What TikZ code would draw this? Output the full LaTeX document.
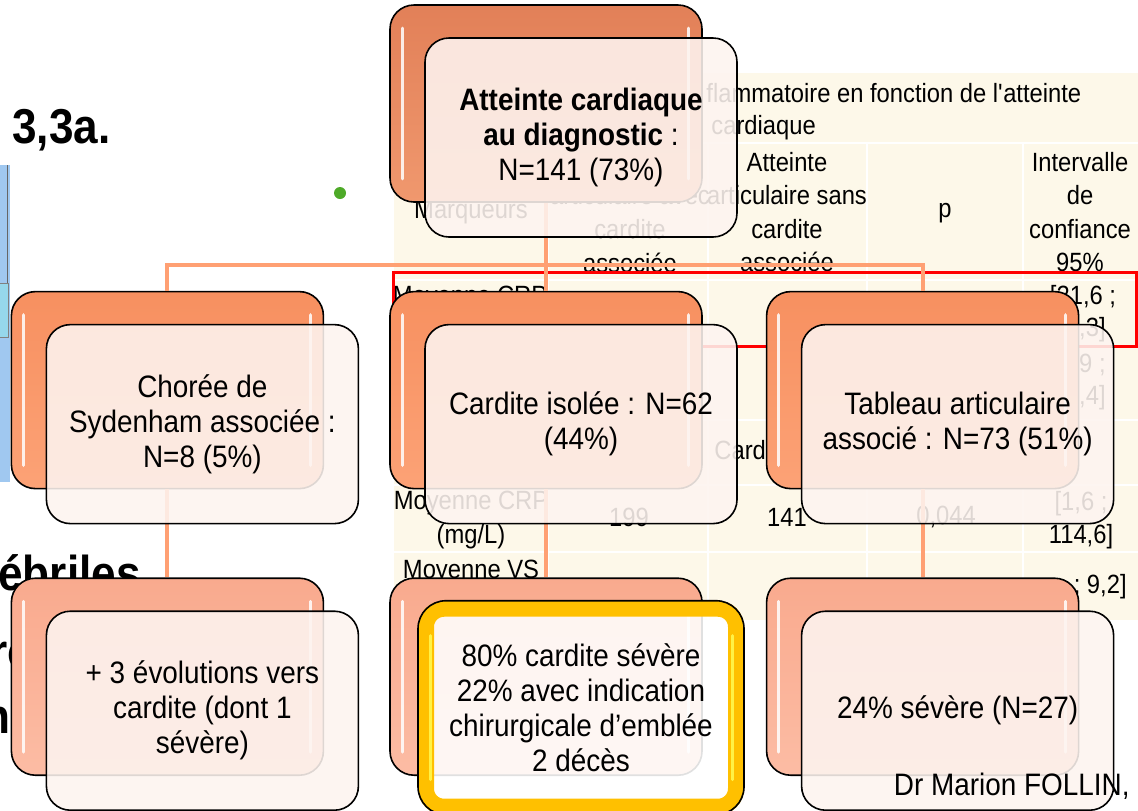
\documentclass[tikz,border=0pt]{standalone}
\usepackage[rgb]{xcolor}
\usepackage{fontspec}
\setmainfont{Liberation Sans}[FakeStretch=0.9]
\usepackage{tikz}
\usetikzlibrary{positioning}

\definecolor{cream}{RGB}{253,248,233}
\definecolor{linkorange}{RGB}{255,160,115}
\definecolor{topdark}{RGB}{226,128,88}
\definecolor{toplight}{RGB}{240,152,110}
\definecolor{middark}{RGB}{247,144,96}
\definecolor{midlight}{RGB}{252,162,118}
\definecolor{lowdark}{RGB}{249,170,142}
\definecolor{lowlight}{RGB}{252,188,164}
\definecolor{frontfill}{RGB}{253,244,240}
\definecolor{gold}{RGB}{255,192,0}
\definecolor{ringshine}{RGB}{255,242,70}
\definecolor{dotgreen}{RGB}{78,170,40}
\definecolor{panelblue}{RGB}{160,200,240}
\definecolor{panelcyan}{RGB}{150,215,235}

\newcommand{\boxfont}{\fontsize{15.5}{17.5}\selectfont}
\newcommand{\tabfont}{\fontsize{13.2}{16.8}\selectfont}
\newcommand{\bigbold}{\fontsize{24.5}{28}\selectfont\bfseries}

\begin{document}
\begin{tikzpicture}[x=0.5pt, y=-0.5pt,
  backbox/.style={draw=black, line width=0.8pt, rounded corners=12pt,
    minimum width=156pt, minimum height=98.5pt, inner sep=0pt},
  rowone/.style={top color=topdark, bottom color=toplight},
  rowtwo/.style={top color=middark, bottom color=midlight},
  rowthree/.style={top color=lowdark, bottom color=lowlight},
  frontbox/.style={draw=black, line width=0.8pt, rounded corners=12pt,
    fill=frontfill, fill opacity=0.88, text opacity=1,
    minimum width=156pt, minimum height=99.5pt, align=center, font=\boxfont},
  link/.style={draw=linkorange, line width=2pt},
  gloss/.style={white, line width=1.6pt, line cap=round, opacity=0.85},
  tabtext/.style={font=\tabfont, align=center, inner sep=0pt},
  slidetext/.style={font=\bigbold, anchor=base west, inner sep=0pt}
]

\useasboundingbox (0,0) rectangle (1138,810);
\fill[white] (0,0) rectangle (1138,810);

% slide behind the chart
\node[slidetext] (secnum) at (12,143) {3,3a.};
\node[slidetext] (febr) at (-2,590) {ébriles};
\node[slidetext] (frag1) at (-10,668) {ro};
\node[slidetext] (frag2) at (-17,733) {n};
\fill[panelblue] (-5,165) rectangle (10,482);
\draw[black!60, line width=0.5pt] (7,165) -- (7,283);
\filldraw[fill=panelcyan, draw=black!50, line width=0.5pt] (-5,283) rectangle (8,337);
\fill[dotgreen] (340,193) circle [radius=3pt];

% table
\fill[cream] (394,73) rectangle (1145,620);
\foreach \y in {143,280,347,420,485,552}
  \draw[white, line width=1pt] (394,\y) -- (1145,\y);
\foreach \x in {548,708,867,1023}
  \draw[white, line width=1pt] (\x,143) -- (\x,620);

\node[tabtext, anchor=west] (tabtitle) at (706,93) {flammatoire en fonction de l\textquotesingle atteinte};
\node[tabtext, anchor=west] (tabtitleb) at (711,128) {cardiaque};
\node[tabtext] (colmark) at (471,212) {Marqueurs};
\node[tabtext] (colwith) at (630,229) {articulaire avec\\cardite\\associée};
\node[tabtext] (colwithout) at (787,212) {Atteinte\\articulaire sans\\cardite\\associée};
\node[tabtext] (colp) at (945,213) {p};
\node[tabtext] (colci) at (1080,212) {Intervalle\\de\\confiance\\95\%};

\node[tabtext] (crpA) at (470,298) {Moyenne CRP};
\node[tabtext] (ciA) at (1083,298) {[21,6 ;};
\node[tabtext, anchor=east] (ciB) at (1106,330) {2,3]};
\node[tabtext, anchor=east] (ciC) at (1106,365) {,9 ;};
\node[tabtext, anchor=east] (ciD) at (1106,398) {,4]};
\node[tabtext, anchor=west] (cardrow) at (714,450) {Cardite};
\node[tabtext] (crpB) at (471,520) {Moyenne CRP\\(mg/L)};
\node[tabtext] (crpwith) at (629,517) {199};
\node[tabtext] (crpwithout) at (787,517) {141};
\node[tabtext] (crpp) at (946,517) {0,044};
\node[tabtext] (crpci) at (1081,520) {[1,6 ;\\114,6]};
\node[tabtext] (vsA) at (471,572) {Moyenne VS};
\node[tabtext, anchor=east] (vsci) at (1127,587) {; 9,2]};

\draw[red, line width=1.5pt] (393,272) rectangle (1136,346);

% back boxes
\node[backbox, rowone] (diag) at (546,103.5) {};
\node[backbox, rowtwo, below=44pt of diag] (isolated) {};
\node[backbox, rowtwo, left=32.5pt of isolated] (chorea) {};
\node[backbox, rowtwo, right=31.5pt of isolated] (artic) {};
\node[backbox, rowthree, below=44pt of chorea] (choreaB) {};
\node[backbox, rowthree, below=44pt of isolated] (severe) {};
\node[backbox, rowthree, below=44pt of artic] (artsev) {};

% connectors
\coordinate (bus) at (546,265);
\draw[link] (diag.south) -- (isolated.north);
\draw[link] (chorea.north) |- (bus) -| (artic.north);
\draw[link] (chorea.south) -- (choreaB.north);
\draw[link] (isolated.south) -- (severe.north);
\draw[link] (artic.south) -- (artsev.north);

% glossy strokes
\foreach \n in {diag, chorea, isolated, artic, choreaB, severe, artsev}
{
  \draw[gloss] ([shift={(13,24)}]\n.north west) -- ([shift={(13,-24)}]\n.south west);
  \draw[gloss] ([shift={(-14,24)}]\n.north east) -- ([shift={(-14,-24)}]\n.south east);
}

% front boxes
\node[frontbox] (diagF) at ([shift={(35,34)}]diag.center)
  {\textbf{Atteinte cardiaque}\\\textbf{au diagnostic} :\\N=141 (73\%)};
\node[frontbox] (choreaF) at ([shift={(35,34)}]chorea.center)
  {Chorée de\\Sydenham associée :\\N=8 (5\%)};
\node[frontbox] (isolatedF) at ([shift={(35,34)}]isolated.center)
  {Cardite isolée : N=62\\(44\%)};
\node[frontbox] (articF) at ([shift={(35,34)}]artic.center)
  {Tableau articulaire\\associé : N=73 (51\%)};
\node[frontbox] (choreaBF) at ([shift={(35,34)}]choreaB.center)
  {+ 3 évolutions vers\\cardite (dont 1\\sévère)};
\node[frontbox, draw=gold, line width=8pt, fill=white, rounded corners=9pt,
  minimum width=155pt, minimum height=99pt] (severeF) at ([shift={(35,31)}]severe.center)
  {80\% cardite sévère\\22\% avec indication\\chirurgicale d’emblée\\2 décès};
\node[frontbox] (artsevF) at ([shift={(35,34)}]artsev.center)
  {24\% sévère (N=27)};

% yellow ring edge
\draw[line width=0.8pt, rounded corners=14pt] (severeF.north west) rectangle (severeF.south east);
\draw[ringshine, line width=1.5pt, line cap=round]
  ([shift={(12,35)}]severeF.north west) -- ([shift={(12,-35)}]severeF.south west);
\draw[ringshine, line width=1.5pt, line cap=round]
  ([shift={(-12,35)}]severeF.north east) -- ([shift={(-12,-35)}]severeF.south east);

\node[anchor=base east, font=\fontsize{15.5}{17}\selectfont, inner sep=0pt] (author) at (1130,795) {Dr Marion FOLLIN,};

\end{tikzpicture}
\end{document}
